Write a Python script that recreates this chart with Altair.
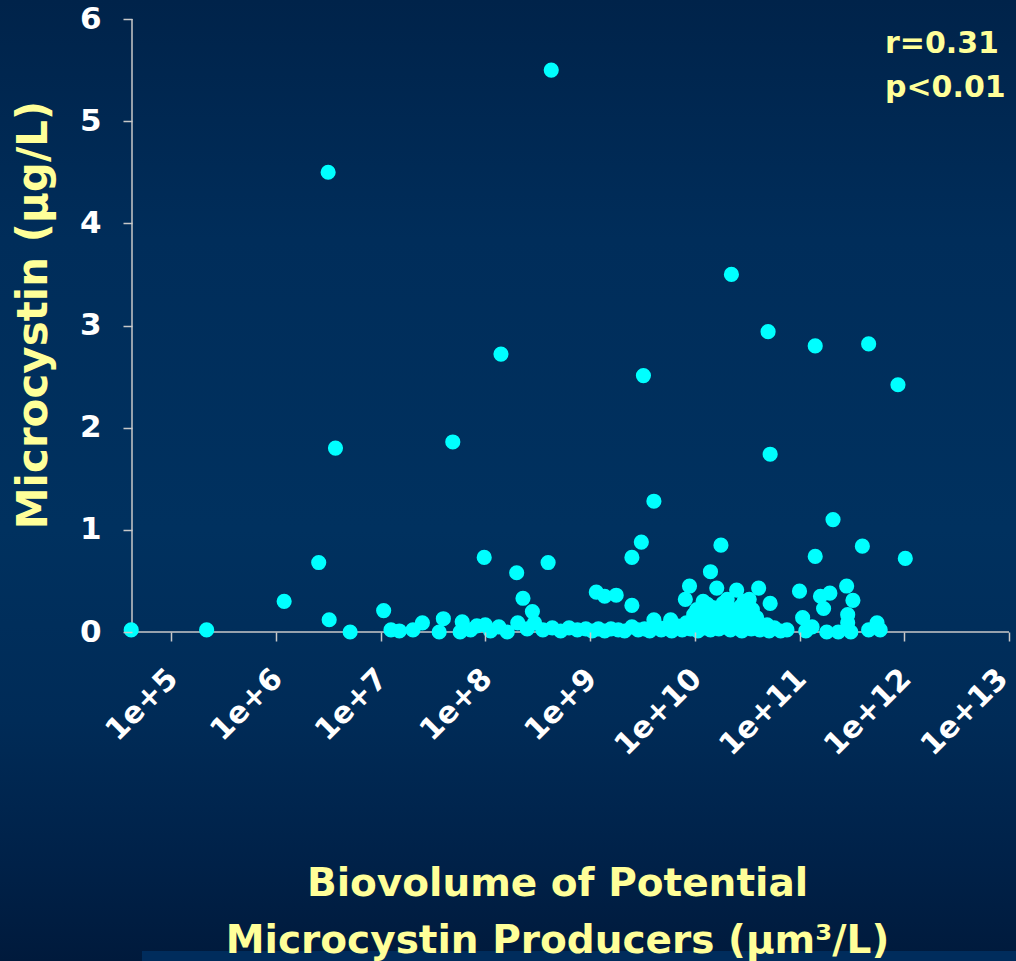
import altair as alt
import pandas as pd

# Biovolume of potential microcystin producers, as powers of ten (um^3/L)
log_biovolume = [
    4.62, 5.34, 6.08, 6.41, 6.50, 6.51, 6.57, 6.71, 7.03, 7.69,
    7.99, 8.15, 8.30, 8.36, 8.45, 8.60, 8.63, 9.06, 9.14, 9.25,
    9.40, 9.40, 9.49, 9.51, 9.61, 9.91, 9.95, 10.15, 10.25, 10.35,
    10.21, 10.40, 10.61, 10.72, 10.52, 10.12, 10.31, 10.44, 9.99, 9.61,
    9.77, 10.59, 10.69, 10.70, 10.72, 11.00, 11.03, 11.15, 11.15, 11.32,
    11.60, 11.66, 11.94, 12.01, 11.20, 11.29, 11.45, 11.51, 11.23, 11.12,
    11.06, 11.26, 11.37, 11.46, 11.46, 11.49, 11.66, 11.74, 11.77,
    7.10, 7.18, 7.31, 7.40, 7.56, 7.60, 7.76, 7.78, 7.86, 7.92,
    8.00, 8.05, 8.13, 8.21, 8.31, 8.40, 8.47, 8.55, 8.64, 8.72,
    8.80, 8.88, 8.96, 9.02, 9.08, 9.14, 9.20, 9.27, 9.33, 9.40,
    9.46, 9.52, 9.57, 9.63, 9.68, 9.72, 9.78, 9.83, 9.88, 9.92,
    9.96, 10.00, 10.03, 10.06, 10.09, 10.12, 10.15, 10.18, 10.21, 10.23,
    10.26, 10.28, 10.32, 10.34, 10.37, 10.40, 10.43, 10.45, 10.48, 10.51,
    10.54, 10.57, 10.62, 10.66, 10.71, 10.76, 10.82, 10.88,
    10.02, 10.08, 10.17, 10.27, 10.36, 10.47, 10.55, 10.05, 10.40, 10.30,
]

# Microcystin concentration (ug/L)
microcystin = [
    0.02, 0.02, 0.30, 0.68, 4.50, 0.12, 1.80, 0.00, 0.21, 1.86,
    0.73, 2.72, 0.58, 0.33, 0.20, 0.68, 5.50, 0.39, 0.35, 0.36,
    0.26, 0.73, 0.88, 2.51, 1.28, 0.32, 0.45, 0.59, 0.85, 3.50,
    0.43, 0.41, 0.43, 0.28, 0.32, 0.27, 0.32, 0.25, 0.17, 0.12,
    0.12, 0.14, 0.07, 2.94, 1.74, 0.40, 0.14, 0.74, 2.80, 1.10,
    0.84, 2.82, 2.42, 0.72, 0.35, 0.38, 0.45, 0.31, 0.23, 0.05,
    0.01, 0.00, 0.00, 0.17, 0.09, 0.00, 0.02, 0.09, 0.02,
    0.02, 0.01, 0.02, 0.09, 0.00, 0.13, 0.00, 0.10, 0.02, 0.06,
    0.07, 0.01, 0.05, 0.00, 0.09, 0.03, 0.09, 0.02, 0.04, 0.01,
    0.04, 0.02, 0.03, 0.01, 0.03, 0.01, 0.03, 0.02, 0.01, 0.05,
    0.02, 0.03, 0.01, 0.06, 0.02, 0.04, 0.01, 0.06, 0.02, 0.09,
    0.03, 0.07, 0.01, 0.12, 0.04, 0.16, 0.02, 0.08, 0.21, 0.03,
    0.12, 0.05, 0.19, 0.02, 0.10, 0.04, 0.15, 0.01, 0.08, 0.19,
    0.03, 0.06, 0.02, 0.04, 0.01, 0.04, 0.01, 0.02,
    0.22, 0.30, 0.24, 0.28, 0.22, 0.30, 0.22, 0.08, 0.12, 0.08,
]

x_tick_exponents = [5, 6, 7, 8, 9, 10, 11, 12, 13]
y_ticks = [0, 1, 2, 3, 4, 5, 6]
annotation_lines = ["r=0.31", "p<0.01"]

df = pd.DataFrame({
    "biovolume": [10 ** e for e in log_biovolume],
    "microcystin": microcystin,
})

X_MIN = 10 ** 4.6275
X_MAX = 1e13
W, H = 877, 613
FONT = "DejaVu Sans"
YELLOW = "#ffff99"
AXIS_GREY = "#c8c8c8"

x_scale = alt.Scale(type="log", domain=[X_MIN, X_MAX])
y_scale = alt.Scale(domain=[0, 6])

x_axis = alt.Axis(
    values=[10 ** k for k in x_tick_exponents],
    labelExpr="'1e+' + round(log(datum.value) / LN10)",
    labelAngle=-45,
    labelFont=FONT, labelFontSize=30, labelFontWeight="bold",
    labelColor="white", labelPadding=22,
    # the last label sits at the right edge, so it is nudged inward a little more
    labelOffset=alt.condition("datum.value >= 1e13", alt.value(-17), alt.value(-9)),
    labelOverlap=False, labelFlush=False, labelBound=False,
    domain=False, grid=False,
    tickColor=AXIS_GREY, tickSize=9, tickWidth=1.5,
    title=["Biovolume of Potential", "Microcystin Producers (\u03bcm\u00b3/L)"],
    titleFont=FONT, titleFontSize=39, titleFontWeight="bold",
    titleColor=YELLOW, titleX=425, titleY=263,
    titleAlign="center", titleBaseline="alphabetic", titleLineHeight=57,
    zindex=1,
)

y_axis = alt.Axis(
    values=y_ticks, format="d",
    labelFont=FONT, labelFontSize=31, labelFontWeight="bold",
    labelColor="white", labelPadding=22,
    domain=False, grid=False,
    tickColor=AXIS_GREY, tickSize=9, tickWidth=1.5,
    title="Microcystin (\u03bcg/L)",
    titleFont=FONT, titleFontSize=42, titleFontWeight="bold",
    titleColor=YELLOW, titleX=-99, titleY=H / 2 - 11,
    titleAngle=-90, titleAlign="center", titleBaseline="middle",
    zindex=1,
)

# Slide-style dark blue gradient behind everything
background = alt.Chart(alt.Data(values=[{}])).mark_rect(
    color=alt.Gradient(
        gradient="linear",
        x1=0, x2=0, y1=0, y2=1,
        stops=[
            alt.GradientStop(offset=0.0, color="#00234a"),
            alt.GradientStop(offset=0.25, color="#002d5a"),
            alt.GradientStop(offset=0.55, color="#00315f"),
            alt.GradientStop(offset=0.75, color="#002b57"),
            alt.GradientStop(offset=0.9, color="#002148"),
            alt.GradientStop(offset=1.0, color="#001a3c"),
        ],
    )
).encode(
    x=alt.value(-132), x2=alt.value(W + 7),
    y=alt.value(-19), y2=alt.value(H + 329),
)

# Lighter strip along the bottom edge of the slide
bottom_strip = alt.Chart(alt.Data(values=[{}])).mark_rect(color="#002c5c").encode(
    x=alt.value(10), x2=alt.value(W + 7),
    y=alt.value(H + 319), y2=alt.value(H + 329),
)

# Axis lines drawn beneath the points
x_line = alt.Chart(pd.DataFrame({"microcystin": [0]})).mark_rule(
    color=AXIS_GREY, strokeWidth=1.5
).encode(y=alt.Y("microcystin:Q", scale=y_scale, axis=y_axis))

y_line = alt.Chart(pd.DataFrame({"biovolume": [X_MIN]})).mark_rule(
    color=AXIS_GREY, strokeWidth=1.5
).encode(x=alt.X("biovolume:Q", scale=x_scale, axis=x_axis))

points = alt.Chart(df).mark_circle(size=230, color="#00ffff", opacity=1).encode(
    x=alt.X("biovolume:Q", scale=x_scale, axis=x_axis),
    y=alt.Y("microcystin:Q", scale=y_scale, axis=y_axis),
)

annotation = alt.Chart(alt.Data(values=[{}])).mark_text(
    text=annotation_lines, align="left", baseline="alphabetic",
    font=FONT, fontSize=30, fontWeight="bold", color=YELLOW, lineHeight=44,
).encode(x=alt.value(753), y=alt.value(34))

chart = alt.layer(
    background, bottom_strip, x_line, y_line, points, annotation
).properties(
    width=W, height=H,
    padding={"left": 132, "top": 19, "right": 7, "bottom": 329},
    autosize=alt.AutoSizeParams(type="none"),
).configure(background="#002850").configure_view(stroke=None)

chart.save("out.html", embed_options={"renderer": "svg", "actions": False})
